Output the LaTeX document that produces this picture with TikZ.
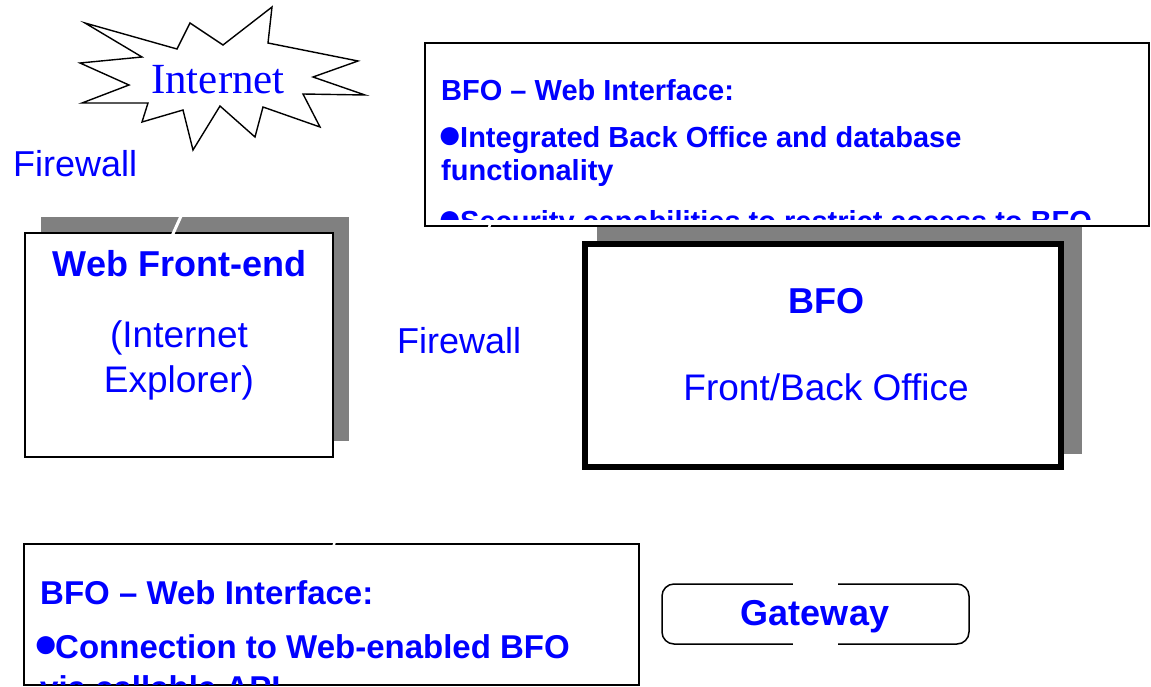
\documentclass[tikz,border=0pt]{standalone}
\usepackage{fontspec}
\setmainfont{Liberation Sans}
\newfontfamily\starfont{Liberation Serif}
\newcommand\setfs[1]{\fontsize{#1pt}{#1pt}\selectfont}
% list bullet: width of its box, left shift, how far it is lowered
\newcommand\blt[3]{\makebox[#1][l]{\hspace*{-#2}\raisebox{#3}{\setfs{42}●}}}
\definecolor{ink}{RGB}{0,0,255}
\definecolor{shadowgray}{RGB}{128,128,128}
\begin{document}
\begin{tikzpicture}[x=1pt,y=-1pt,
  txt/.style={text=ink, inner sep=0pt, anchor=base},
  txtw/.style={text=ink, inner sep=0pt, anchor=base west},
  panel/.style={draw=black, fill=white, inner sep=0pt},
  gap/.style={draw=white, line width=3pt}]
\useasboundingbox (0,0) rectangle (1151,686);

% Internet burst
\draw[line width=1.4pt, fill=white, line join=miter]
  (85,23) -- (177,49) -- (190,23) -- (223,45) -- (272,7) -- (268,43)
  -- (358,61) -- (313,77) -- (365,95) -- (303,94) -- (320,127)
  -- (263,107) -- (255,137) -- (220,106) -- (193,150) -- (183,110)
  -- (142,122) -- (148,103) -- (82,103) -- (129,85) -- (80,63)
  -- (142,57) -- cycle;
\node[txt, font=\starfont\setfs{43}] (inet) at (218,93) {Internet};

% firewall labels
\node[txtw, font=\setfs{36}] (fw1) at (13,176) {Firewall};
\node[txtw, font=\setfs{36}] (fw2) at (397,353) {Firewall};

% shadows
\fill[shadowgray] (41,217) rectangle (349,441);
\fill[shadowgray] (597,226) rectangle (1082,454);

% boxes
\node[panel, line width=2pt, minimum width=308pt, minimum height=224pt] (web) at (179,345) {};
\node[panel, line width=6pt, minimum width=476pt, minimum height=223pt] (bfo) at (822.5,355.5) {};
\node[panel, line width=1.5pt, minimum width=724pt, minimum height=183pt] (note1) at (787,134.5) {};
\node[panel, line width=1.5pt, minimum width=615pt, minimum height=141pt] (note2) at (331.5,614.5) {};
\node[panel, line width=1.5pt, rounded corners=12pt, minimum width=307pt, minimum height=60pt] (gw) at (815.5,614) {};

% hidden links (white strokes)
\coordinate (l1a) at (196,183);
\coordinate (l1b) at (172,236);
\draw[gap] (l1a) -- (l1b);
\coordinate (l2a) at (336,537);
\coordinate (l2b) at (333,548);
\draw[gap, line width=2.5pt] (l2a) -- (l2b);
\coordinate (l3a) at (491,221);
\coordinate (l3b) at (488,231);
\draw[gap, line width=2.5pt] (l3a) -- (l3b);
\fill[white] (793,578) rectangle (838,650);

% box texts
\node[txt, font=\bfseries\setfs{36}] (webt) at (179.5,276) {Web Front-end};
\node[txt, font=\setfs{37}] (webs1) at (179,347) {(Internet};
\node[txt, font=\setfs{37}] (webs2) at (179,392) {Explorer)};
\node[txt, font=\bfseries\setfs{36}] (bfot) at (826,313) {BFO};
\node[txt, font=\setfs{37}] (bfos) at (826,400) {Front/Back Office};
\node[txt, font=\bfseries\setfs{36}] (gwt) at (815,625) {Gateway};

\begin{scope}
  \clip (426,44) rectangle (1148,219);
  \node[txtw, font=\bfseries\setfs{29}] (n1a) at (441,100) {BFO – Web Interface:};
  \node[txtw, font=\bfseries\setfs{29}] (n1b) at (440,147) {\blt{20pt}{2.7pt}{-1pt}Integrated Back Office and database};
  \node[txtw, font=\bfseries\setfs{29}] (n1c) at (441,180) {functionality};
  \node[txtw, font=\bfseries\setfs{29}] (n1d) at (440,231) {\blt{20pt}{2.7pt}{-1pt}Security capabilities to restrict access to BFO};
\end{scope}
\begin{scope}
  \clip (25,545) rectangle (638,684);
  \node[txtw, font=\bfseries\setfs{33}] (n2a) at (40,604) {BFO – Web Interface:};
  \node[txtw, font=\bfseries\setfs{33}] (n2b) at (37,658) {\blt{18pt}{3.4pt}{1pt}Connection to Web-enabled BFO};
  \node[txtw, font=\bfseries\setfs{33}] (n2c) at (40,699) {via callable API};
\end{scope}
\end{tikzpicture}
\end{document}
